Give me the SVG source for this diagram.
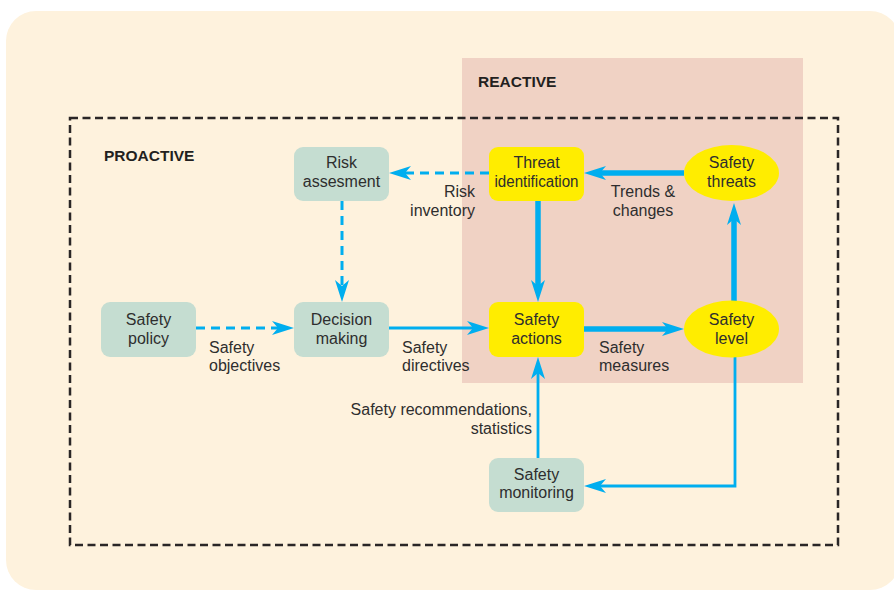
<svg xmlns="http://www.w3.org/2000/svg" width="894" height="592" viewBox="0 0 894 592">
<defs>
<style>
text{font-family:"Liberation Sans",Arial,sans-serif;font-size:16px;fill:#2e2e2e}
.title{font-weight:bold;font-size:15.5px;fill:#231f20}
.c{text-anchor:middle}
.e{text-anchor:end}
.green{fill:#c5ddd1}
.yellow{fill:#ffed00}
.ln{fill:none;stroke:#00aeef}
.thin{stroke-width:2.8}
.thick{stroke-width:5.5}
.dash{stroke-width:3;stroke-dasharray:9 6}
</style>
<marker id="ah" viewBox="0 -7 22 14" refX="6" refY="0" markerWidth="22" markerHeight="14" markerUnits="userSpaceOnUse" orient="auto">
<path d="M0,-7 L22,0 L0,7 L6,0 Z" fill="#00aeef"/>
</marker>
</defs>
<rect x="6" y="11" width="894" height="579" rx="30" fill="#fef2dd"/>
<rect x="462" y="58" width="341" height="325" fill="#f0d2c4"/>
<rect x="70" y="118" width="768" height="427" fill="none" stroke="#2a2626" stroke-width="2.5" stroke-dasharray="8 4.5"/>
<text class="title" x="478" y="87">REACTIVE</text>
<text class="title" x="104" y="161">PROACTIVE</text>

<g id="connectors">
<path class="ln dash" d="M489,173 L405,173" marker-end="url(#ah)"/>
<path class="ln dash" d="M342,201 L342,286" marker-end="url(#ah)"/>
<path class="ln dash" d="M196,328 L278,328" marker-end="url(#ah)"/>
<path class="ln thin" d="M389,328 L473,328" marker-end="url(#ah)"/>
<path class="ln thick" d="M538,201 L538,286" marker-end="url(#ah)"/>
<path class="ln thick" d="M684,173 L600,173" marker-end="url(#ah)"/>
<path class="ln thick" d="M584,329 L668,329" marker-end="url(#ah)"/>
<path class="ln thick" d="M734,301 L734,219" marker-end="url(#ah)"/>
<path class="ln thin" d="M735,357 L735,486 L600,486" marker-end="url(#ah)"/>
<path class="ln thin" d="M538,458 L538,373" marker-end="url(#ah)"/>
<text class="e" x="475" y="197">Risk</text>
<text class="e" x="475" y="216">inventory</text>
<text class="c" x="643" y="197">Trends &amp;</text>
<text class="c" x="643" y="216">changes</text>
<text x="209" y="353">Safety</text>
<text x="209" y="371">objectives</text>
<text x="402" y="353">Safety</text>
<text x="402" y="371">directives</text>
<text x="599" y="353">Safety</text>
<text x="599" y="371">measures</text>
<text class="e" x="532" y="415">Safety recommendations,</text>
<text class="e" x="532" y="434">statistics</text>
</g>

<g id="risk-assesment">
<rect class="green" x="294" y="147" width="95" height="54" rx="9"/>
<text class="c" x="341.5" y="168">Risk</text>
<text class="c" x="341.5" y="187">assesment</text>
</g>
<g id="threat-identification">
<rect class="yellow" x="489" y="147" width="95" height="54" rx="9"/>
<text class="c" x="536.5" y="168">Threat</text>
<text class="c" x="536.5" y="187" textLength="84" lengthAdjust="spacingAndGlyphs">identification</text>
</g>
<g id="safety-threats">
<ellipse class="yellow" cx="731.5" cy="173" rx="47.5" ry="28"/>
<text class="c" x="731.5" y="168">Safety</text>
<text class="c" x="731.5" y="187">threats</text>
</g>
<g id="safety-policy">
<rect class="green" x="101" y="302" width="95" height="55" rx="9"/>
<text class="c" x="148.5" y="325">Safety</text>
<text class="c" x="148.5" y="344">policy</text>
</g>
<g id="decision-making">
<rect class="green" x="294" y="302" width="95" height="55" rx="9"/>
<text class="c" x="341.5" y="325">Decision</text>
<text class="c" x="341.5" y="344">making</text>
</g>
<g id="safety-actions">
<rect class="yellow" x="489" y="302" width="95" height="55" rx="9"/>
<text class="c" x="536.5" y="325">Safety</text>
<text class="c" x="536.5" y="344">actions</text>
</g>
<g id="safety-level">
<ellipse class="yellow" cx="731.5" cy="329" rx="47.5" ry="28.5"/>
<text class="c" x="731.5" y="325">Safety</text>
<text class="c" x="731.5" y="344">level</text>
</g>
<g id="safety-monitoring">
<rect class="green" x="489" y="458" width="95" height="54" rx="9"/>
<text class="c" x="536.5" y="480">Safety</text>
<text class="c" x="536.5" y="498">monitoring</text>
</g>
</svg>
